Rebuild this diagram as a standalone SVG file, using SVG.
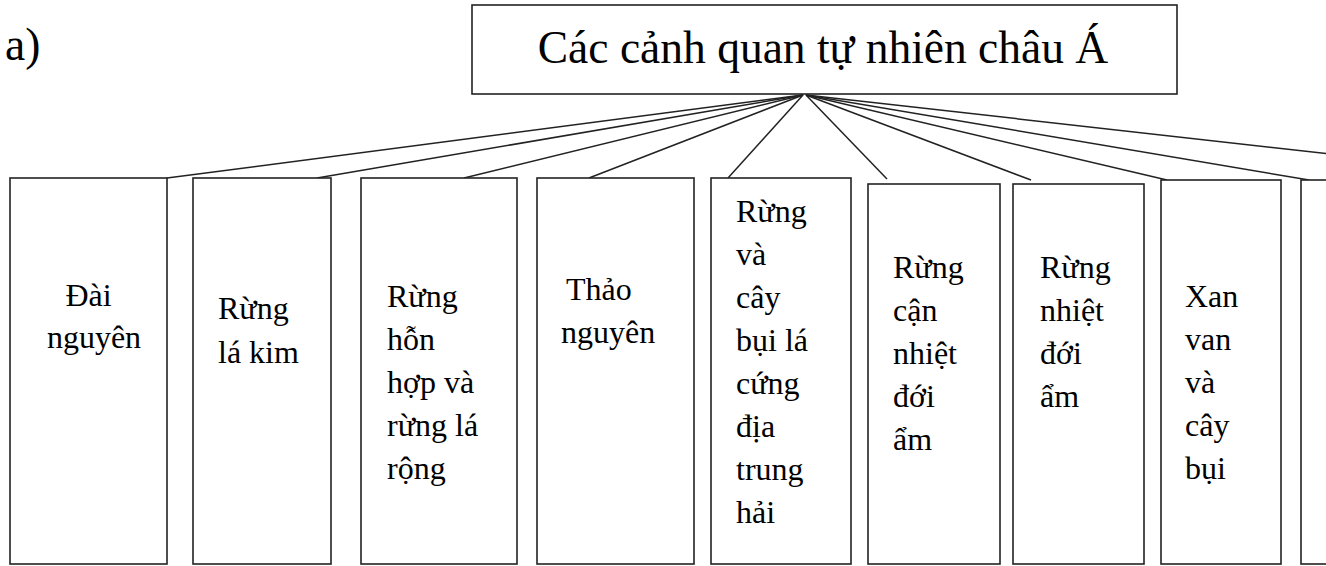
<svg xmlns="http://www.w3.org/2000/svg" width="1326" height="566" viewBox="0 0 1326 566">
<style>
.box{fill:#fff;stroke:#222;stroke-width:1.6}
.ln{stroke:#222;stroke-width:1.5;fill:none}
text, tspan{font-family:"Liberation Serif","Times New Roman","DejaVu Serif",serif;fill:#000}
.t{font-size:32px}
.title{font-size:45.5px}
</style>
<rect width="1326" height="566" fill="#fff"/>
<text id="label-a" class="title" x="5" y="60">a)</text>
<g id="connectors">
<line class="ln" x1="803" y1="95" x2="167" y2="178"/>
<line class="ln" x1="803" y1="95" x2="317" y2="178"/>
<line class="ln" x1="803" y1="95" x2="464" y2="178"/>
<line class="ln" x1="803" y1="95" x2="589" y2="178"/>
<line class="ln" x1="803" y1="95" x2="728" y2="178"/>
<line class="ln" x1="806" y1="95" x2="887" y2="179"/>
<line class="ln" x1="806" y1="95" x2="1031" y2="180"/>
<line class="ln" x1="806" y1="95" x2="1167" y2="180"/>
<line class="ln" x1="806" y1="95" x2="1309" y2="180"/>
<line class="ln" x1="806" y1="95" x2="1330" y2="154"/>
</g>
<g id="root">
<rect class="box" x="472" y="5" width="705" height="89"/>
<text class="title" x="823" y="63" text-anchor="middle">Các cảnh quan tự nhiên châu Á</text>
</g>
<g id="n1">
<rect class="box" x="10" y="178" width="157" height="386"/>
<text class="t" x="88.5" text-anchor="middle"><tspan x="88.5" y="306">Đài</tspan><tspan x="94" y="348">nguyên</tspan></text>
</g>
<g id="n2">
<rect class="box" x="193" y="178" width="138" height="386"/>
<text class="t"><tspan x="218" y="319">Rừng</tspan><tspan x="218" y="363">lá kim</tspan></text>
</g>
<g id="n3">
<rect class="box" x="361" y="178" width="156" height="386"/>
<text class="t"><tspan x="387" y="307">Rừng</tspan><tspan x="387" y="350">hỗn</tspan><tspan x="387" y="393">hợp và</tspan><tspan x="387" y="436">rừng lá</tspan><tspan x="387" y="479">rộng</tspan></text>
</g>
<g id="n4">
<rect class="box" x="537" y="178" width="157" height="386"/>
<text class="t"><tspan x="566" y="300">Thảo</tspan><tspan x="561" y="343">nguyên</tspan></text>
</g>
<g id="n5">
<rect class="box" x="711" y="178" width="140" height="386"/>
<text class="t"><tspan x="736" y="222">Rừng</tspan><tspan x="736" y="265">và</tspan><tspan x="736" y="308">cây</tspan><tspan x="736" y="351">bụi lá</tspan><tspan x="736" y="394">cứng</tspan><tspan x="736" y="437">địa</tspan><tspan x="736" y="480">trung</tspan><tspan x="736" y="523">hải</tspan></text>
</g>
<g id="n6">
<rect class="box" x="868" y="184" width="132" height="380"/>
<text class="t"><tspan x="893" y="278">Rừng</tspan><tspan x="893" y="321">cận</tspan><tspan x="893" y="364">nhiệt</tspan><tspan x="893" y="407">đới</tspan><tspan x="893" y="450">ẩm</tspan></text>
</g>
<g id="n7">
<rect class="box" x="1013" y="184" width="131" height="380"/>
<text class="t"><tspan x="1040" y="278">Rừng</tspan><tspan x="1040" y="321">nhiệt</tspan><tspan x="1040" y="364">đới</tspan><tspan x="1040" y="407">ẩm</tspan></text>
</g>
<g id="n8">
<rect class="box" x="1161" y="180" width="120" height="384"/>
<text class="t"><tspan x="1185" y="307">Xan</tspan><tspan x="1185" y="350">van</tspan><tspan x="1185" y="393">và</tspan><tspan x="1185" y="436">cây</tspan><tspan x="1185" y="479">bụi</tspan></text>
</g>
<g id="n9">
<rect class="box" x="1301" y="180" width="60" height="384"/>
</g>
</svg>
